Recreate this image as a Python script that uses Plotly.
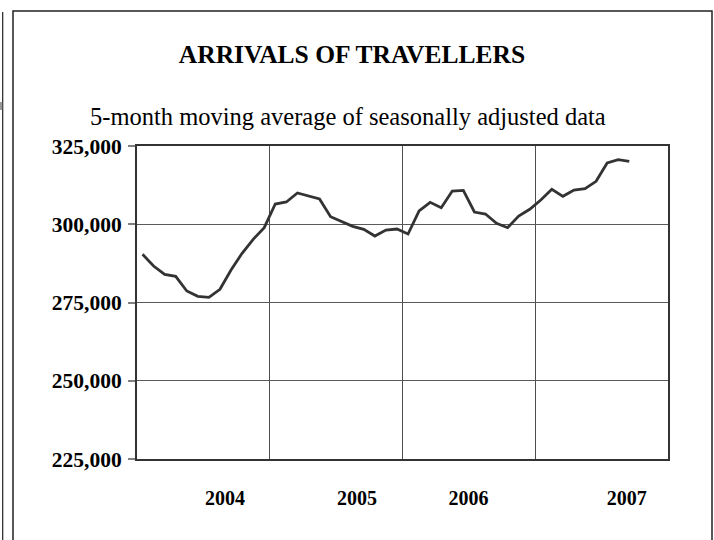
import plotly.graph_objects as go

# ---- data ----
months = list(range(45))  # month index along the category axis
arrivals = [290400, 286660, 284000, 283360, 278670, 276970, 276650, 279210,
            285380, 290720, 295190, 298900, 306470, 307110, 309980, 309020,
            308070, 302420, 300820, 299330, 298380, 296240, 298160, 298480,
            296880, 304230, 307000, 305300, 310620, 310830, 303910, 303270,
            300290, 298900, 302630, 304770, 307750, 311150, 308920, 310940,
            311370, 313710, 319570, 320630, 320100]
year_pos = [7.46, 19.39, 29.46, 43.78]
year_labels = ["2004", "2005", "2006", "2007"]
year_grid = [11.5, 23.5, 35.5]
y_ticks = [225000, 250000, 275000, 300000, 325000]
y_labels = ["225,000", "250,000", "275,000", "300,000", "325,000"]

W, H = 714, 540
L, R, T, B = 137, 668, 146, 459

def px(x):
    return (x - L) / (R - L)

def py(y):
    return (B - y) / (B - T)

fig = go.Figure()
fig.add_trace(go.Scatter(x=months, y=arrivals, mode="lines",
                         line=dict(color="#333333", width=2.8),
                         hoverinfo="skip", showlegend=False))

serif = "Liberation Serif"

fig.update_layout(
    width=W, height=H,
    margin=dict(l=L, r=W - R, t=T, b=H - B),
    paper_bgcolor="white", plot_bgcolor="white",
    font=dict(family=serif, color="black"),
    title=dict(text="<b>ARRIVALS OF TRAVELLERS</b>",
               font=dict(family=serif, size=25.5, color="black"),
               x=352 / W, xanchor="center", xref="container",
               y=1 - 54 / H, yanchor="middle", yref="container"),
    xaxis=dict(range=[-0.5, 47.5], tickvals=year_pos, ticktext=year_labels,
               showgrid=False, zeroline=False, ticks="",
               ticklabelstandoff=20,
               tickfont=dict(family=serif, size=20, color="black", weight="bold"),
               showline=True, linecolor="#333333", linewidth=2, mirror=True,
               minor=dict(tickvals=year_grid, showgrid=True,
                          gridcolor="#4d4d4d", gridwidth=1, ticks="")),
    yaxis=dict(range=[225000, 325000], tickvals=y_ticks, ticktext=y_labels,
               showgrid=True, gridcolor="#5a5a5a", gridwidth=1, zeroline=False,
               ticks="outside", ticklen=7, tickcolor="#808080", tickwidth=1.5,
               ticklabelstandoff=2,
               tickfont=dict(family=serif, size=21.5, color="black", weight="bold"),
               showline=True, linecolor="#333333", linewidth=2, mirror=True),
)

fig.add_annotation(text="5-month moving average of seasonally adjusted data",
                   xref="paper", yref="paper", x=px(347.5), y=py(116),
                   xanchor="center", yanchor="middle", showarrow=False,
                   font=dict(family=serif, size=24.5, color="black"))

# outer chart frame
fig.add_shape(type="rect", xref="paper", yref="paper",
              x0=px(13), x1=px(712), y0=py(545), y1=py(11),
              line=dict(color="#222222", width=1.5), fillcolor="rgba(0,0,0,0)",
              layer="below")
# partial frame of a neighbouring object at far left
fig.add_shape(type="line", xref="paper", yref="paper",
              x0=px(2.7), x1=px(2.7), y0=py(545), y1=py(12),
              line=dict(color="#222222", width=1.2))
fig.add_shape(type="rect", xref="paper", yref="paper",
              x0=px(0), x1=px(2.2), y0=py(110), y1=py(102),
              line=dict(width=0), fillcolor="#9a9a9a")

fig.write_html("out.html",
               config={"displayModeBar": False},
               post_script="document.body.style.margin='0';"
                           "document.body.style.overflow='hidden';")
